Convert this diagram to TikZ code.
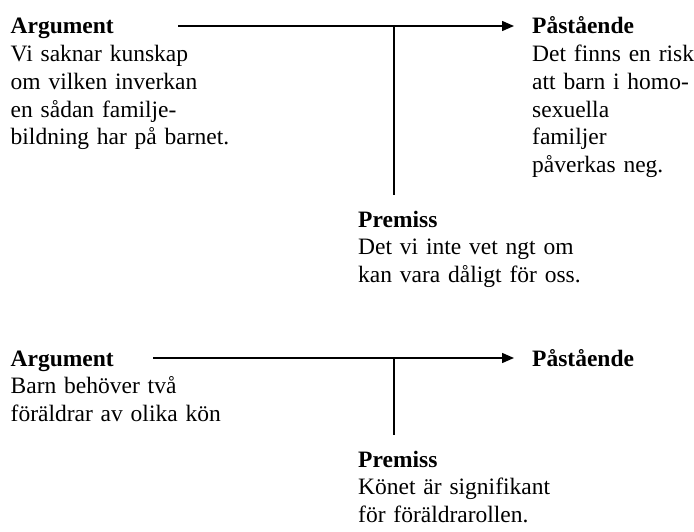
\documentclass[tikz,border=0pt]{standalone}
\usepackage{fontspec}
\setmainfont{Liberation Serif}
\usetikzlibrary{positioning,arrows.meta}

\begin{document}
\begin{tikzpicture}[x=1pt, y=-1pt,
	txt/.style={anchor=base west, inner sep=0pt, text width=#1, align=left, font=\fontsize{23.5pt}{27.7pt}\selectfont},
	txt/.default=260pt,
	link/.style={line width=1.5pt},
	arr/.style={link, -{Triangle[length=12pt, width=10pt]}, shorten >=18pt}]
	\useasboundingbox (0,0) rectangle (694,532);

	% first argument
	\node[txt] (arg1) at (10.5,34) {\textbf{Argument}\\Vi saknar kunskap\\om vilken inverkan\\en sådan familje-\\bildning har på barnet.};
	\node[txt=200pt] (claim1) at (532,34) {\textbf{Påstående}\\Det finns en risk\\att barn i homo-\\sexuella\\familjer\\påverkas neg.};
	\node[txt] (prem1) at (358,227) {\textbf{Premiss}\\Det vi inte vet ngt om\\kan vara dåligt för oss.};
	\coordinate (a1) at (178,26);
	\coordinate (j1) at (394,26);
	\coordinate (p1) at (394,195);

	\draw[arr] (a1) -- (a1 -| claim1.west);
	\draw[link] (j1) -- (p1);

	% second argument
	\node[txt] (arg2) at (10.5,366) {\textbf{Argument}\\Barn behöver två\\föräldrar av olika kön};
	\node[txt=200pt] (claim2) at (532,366) {\textbf{Påstående}};
	\node[txt] (prem2) at (358,467) {\textbf{Premiss}\\Könet är signifikant\\för föräldrarollen.};
	\coordinate (a2) at (153,358);
	\coordinate (j2) at (394,358);
	\coordinate (p2) at (394,435);

	\draw[arr] (a2) -- (a2 -| claim2.west);
	\draw[link] (j2) -- (p2);
\end{tikzpicture}
\end{document}
